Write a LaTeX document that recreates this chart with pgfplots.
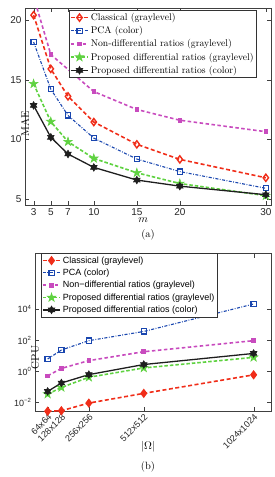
\documentclass[border=0pt]{standalone}
\usepackage{pgfplots}
\pgfplotsset{compat=1.18}
\usepackage{fontspec}
\setsansfont{Liberation Sans}
\usetikzlibrary{plotmarks}

\definecolor{cred}{RGB}{240,45,25}
\definecolor{cblue}{RGB}{25,70,175}
\definecolor{cmag}{RGB}{200,75,190}
\definecolor{cgreen}{RGB}{95,210,65}
\definecolor{cblack}{RGB}{30,30,30}

\pgfdeclareplotmark{pentagram}{%
  \pgfpathmoveto{\pgfpointpolar{90}{\pgfplotmarksize}}%
  \pgfpathlineto{\pgfpointpolar{126}{0.382\pgfplotmarksize}}%
  \pgfpathlineto{\pgfpointpolar{162}{\pgfplotmarksize}}%
  \pgfpathlineto{\pgfpointpolar{198}{0.382\pgfplotmarksize}}%
  \pgfpathlineto{\pgfpointpolar{234}{\pgfplotmarksize}}%
  \pgfpathlineto{\pgfpointpolar{270}{0.382\pgfplotmarksize}}%
  \pgfpathlineto{\pgfpointpolar{306}{\pgfplotmarksize}}%
  \pgfpathlineto{\pgfpointpolar{342}{0.382\pgfplotmarksize}}%
  \pgfpathlineto{\pgfpointpolar{18}{\pgfplotmarksize}}%
  \pgfpathlineto{\pgfpointpolar{54}{0.382\pgfplotmarksize}}%
  \pgfpathclose\pgfusepathqfillstroke}
\pgfdeclareplotmark{hexagram}{%
  \pgfpathmoveto{\pgfpointpolar{90}{\pgfplotmarksize}}%
  \pgfpathlineto{\pgfpointpolar{120}{0.577\pgfplotmarksize}}%
  \pgfpathlineto{\pgfpointpolar{150}{\pgfplotmarksize}}%
  \pgfpathlineto{\pgfpointpolar{180}{0.577\pgfplotmarksize}}%
  \pgfpathlineto{\pgfpointpolar{210}{\pgfplotmarksize}}%
  \pgfpathlineto{\pgfpointpolar{240}{0.577\pgfplotmarksize}}%
  \pgfpathlineto{\pgfpointpolar{270}{\pgfplotmarksize}}%
  \pgfpathlineto{\pgfpointpolar{300}{0.577\pgfplotmarksize}}%
  \pgfpathlineto{\pgfpointpolar{330}{\pgfplotmarksize}}%
  \pgfpathlineto{\pgfpointpolar{0}{0.577\pgfplotmarksize}}%
  \pgfpathlineto{\pgfpointpolar{30}{\pgfplotmarksize}}%
  \pgfpathlineto{\pgfpointpolar{60}{0.577\pgfplotmarksize}}%
  \pgfpathclose\pgfusepathqfillstroke}

\pgfplotsset{
  sred/.style={color=cred, line width=1.6pt, dash pattern=on 4pt off 2.5pt, mark=diamond, mark size=3.6pt, mark options={solid, line width=1.4pt}},
  sblue/.style={color=cblue, line width=1.1pt, dash pattern=on 3pt off 1.5pt on 0.8pt off 1.5pt, mark=square, mark size=2.6pt, mark options={solid, line width=1.2pt}},
  smag/.style={color=cmag, line width=1.6pt, dash pattern=on 3.5pt off 2.5pt, mark=square*, mark size=1.5pt, mark options={solid}},
  sgreen/.style={color=cgreen, line width=1.6pt, dash pattern=on 3.5pt off 2pt, mark=pentagram, mark size=4.5pt, mark options={solid, fill=cgreen, line width=0.6pt}},
  sblack/.style={color=cblack, line width=1.3pt, solid, mark=hexagram, mark size=3.8pt, mark options={solid, fill=cblack, line width=0.6pt}},
}

\begin{document}
\begin{tikzpicture}
\useasboundingbox (0pt,0pt) rectangle (275pt,-477pt);
% ---------------- (a) ----------------
\begin{axis}[
  at={(25pt,-205pt)}, anchor=south west,
  scale only axis, width=246pt, height=197pt,
  xmin=2, xmax=30.6, ymin=4.5, ymax=21,
  xtick={3,5,7,10,15,20,30}, ytick={5,10,15,20},
  axis line style={black!75, line width=0.6pt},
  tick style={black!75},
  tick label style={font=\sffamily\fontsize{10}{11}\selectfont, black!85},
  /pgf/number format/assume math mode=true,
  xlabel={$m$},
  xlabel style={at={(axis description cs:0.48,0)}, anchor=center, yshift=-15pt, font=\fontsize{11}{12}\selectfont},
  ylabel={MAE},
  ylabel style={at={(axis description cs:0,0.5)}, anchor=center, xshift=-17pt, font=\fontsize{11}{12}\selectfont},
  clip marker paths=true,
  legend cell align=left,
  legend style={at={(0.943,0.99)}, anchor=north east, draw=black!80, line width=0.6pt,
    font=\fontsize{9.7}{10.5}\selectfont, inner sep=1pt, row sep=0.4pt},
]
\addplot[sred] coordinates {(3,20.4) (5,15.9) (7,13.6) (10,11.45) (15,9.58) (20,8.32) (30,6.78)};
\addlegendentry{Classical (graylevel)}
\addplot[sblue] coordinates {(3,18.15) (5,14.2) (7,12.0) (10,10.1) (15,8.35) (20,7.3) (30,5.9)};
\addlegendentry{PCA (color)}
\addplot[smag] coordinates {(3,21.95) (5,17.1) (10,14.0) (15,12.5) (20,11.6) (30,10.64)};
\addlegendentry{Non-differential ratios (graylevel)}
\addplot[sgreen] coordinates {(3,14.65) (5,11.48) (7,9.8) (10,8.4) (15,7.2) (20,6.3) (30,5.28)};
\addlegendentry{Proposed differential ratios (graylevel)}
\addplot[sblack] coordinates {(3,12.84) (5,10.17) (7,8.77) (10,7.65) (15,6.59) (20,6.08) (30,5.36)};
\addlegendentry{Proposed differential ratios (color)}
\end{axis}
\node[font=\fontsize{10.5}{11}\selectfont] at (148pt,-235pt) {(a)};
% ---------------- (b) ----------------
\begin{axis}[
  at={(35pt,-411.7pt)}, anchor=south west,
  scale only axis, width=236pt, height=158.4pt,
  ymode=log,
  xmin=5, xmax=1105, ymin=0.0026, ymax=3.7e7,
  xtick={64,128,256,512,1024},
  xticklabels={64x64,128x128,256x256,512x512,1024x1024},
  x tick label style={rotate=45, anchor=north east, inner sep=1pt},
  ytick={0.01,1,100,10000},
  yticklabels={10\textsuperscript{−2},10\textsuperscript{0},10\textsuperscript{2},10\textsuperscript{4}},
  yminorticks=false,
  axis line style={black!75, line width=0.6pt},
  tick style={black!75},
  tick label style={font=\sffamily\fontsize{9}{10}\selectfont, black!85},
  xlabel={$|\Omega|$},
  xlabel style={at={(axis description cs:0.479,0)}, anchor=center, yshift=-35pt, font=\fontsize{11}{12}\selectfont},
  ylabel={CPU},
  ylabel style={at={(axis description cs:0,0.5)}, anchor=center, xshift=-25pt, font=\fontsize{11}{12}\selectfont},
  legend cell align=left,
  legend style={at={(0.025,1)}, anchor=north west, draw=black!80, line width=0.6pt,
    font=\sffamily\fontsize{9}{10}\selectfont, inner sep=1pt, row sep=0.3pt},
]
\addplot[sred, mark options={solid, line width=1.4pt, fill=cred}, mark=diamond*] coordinates {(64,0.0028) (128,0.0030) (256,0.0093) (512,0.039) (1024,0.60)};
\addlegendentry{Classical (graylevel)}
\addplot[sblue] coordinates {(64,6.2) (128,23.4) (256,93) (512,363) (1024,20900)};
\addlegendentry{PCA (color)}
\addplot[smag] coordinates {(64,0.52) (128,1.55) (256,4.9) (512,18.2) (1024,93)};
\addlegendentry{Non−differential ratios (graylevel)}
\addplot[sgreen] coordinates {(64,0.035) (128,0.093) (256,0.42) (512,1.66) (1024,7.9)};
\addlegendentry{Proposed differential ratios (graylevel)}
\addplot[sblack] coordinates {(64,0.052) (128,0.18) (256,0.62) (512,2.75) (1024,14.1)};
\addlegendentry{Proposed differential ratios (color)}
\end{axis}
\node[font=\fontsize{10.5}{11}\selectfont] at (148pt,-467pt) {(b)};
\end{tikzpicture}
\end{document}
